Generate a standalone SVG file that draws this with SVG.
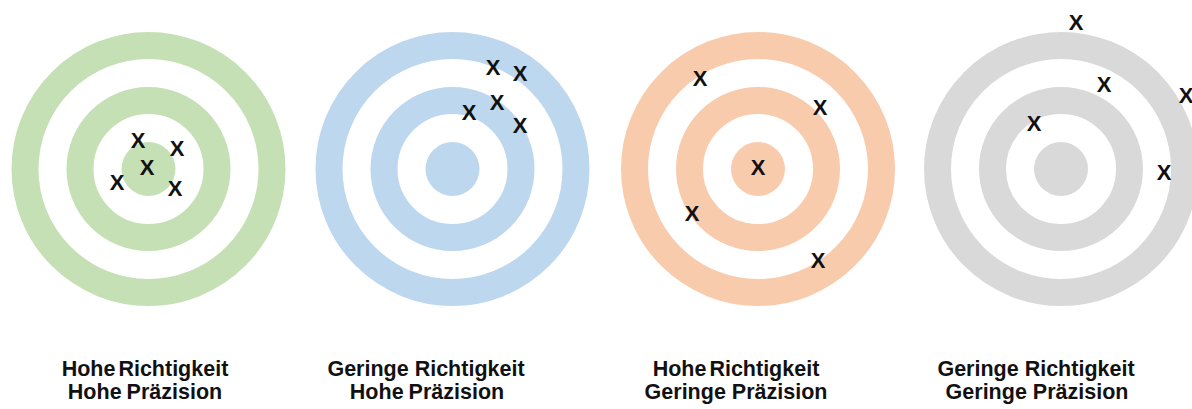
<svg xmlns="http://www.w3.org/2000/svg" width="1192" height="409" viewBox="0 0 1192 409">
<style>
.ring{fill:none;stroke-width:27}
.x{font-family:"Liberation Sans",Arial,sans-serif;font-weight:bold;font-size:22px;fill:#111;text-anchor:middle}
.lbl{font-family:"Liberation Sans",Arial,sans-serif;font-weight:bold;font-size:21.5px;fill:#111;text-anchor:middle}
.g{stroke:#c5e0b4}.gf{fill:#c5e0b4}
.b{stroke:#bdd7ee}.bf{fill:#bdd7ee}
.o{stroke:#f8cbad}.of{fill:#f8cbad}
.k{stroke:#d9d9d9}.kf{fill:#d9d9d9}
</style>
<rect width="1192" height="409" fill="#fff"/>
<g id="target-green">
<circle class="ring g" cx="148.5" cy="169" r="123.5"/>
<circle class="ring g" cx="148.5" cy="169" r="68.5"/>
<circle class="gf" cx="148.5" cy="169" r="27"/>
<text class="x" x="138" y="148">X</text>
<text class="x" x="177" y="156">X</text>
<text class="x" x="147" y="175">X</text>
<text class="x" x="117" y="190">X</text>
<text class="x" x="175" y="196">X</text>
<text class="lbl" x="145" y="376" word-spacing="-3">Hohe Richtigkeit</text>
<text class="lbl" x="145" y="399" word-spacing="-1">Hohe Präzision</text>
</g>
<g id="target-blue">
<circle class="ring b" cx="452.5" cy="169" r="123.5"/>
<circle class="ring b" cx="452.5" cy="169" r="68.5"/>
<circle class="bf" cx="452.5" cy="169" r="27"/>
<text class="x" x="493" y="75">X</text>
<text class="x" x="520" y="81">X</text>
<text class="x" x="497" y="110">X</text>
<text class="x" x="469" y="120">X</text>
<text class="x" x="520" y="133">X</text>
<text class="lbl" x="426" y="376">Geringe Richtigkeit</text>
<text class="lbl" x="427" y="399" word-spacing="-1">Hohe Präzision</text>
</g>
<g id="target-orange">
<circle class="ring o" cx="758" cy="169" r="123.5"/>
<circle class="ring o" cx="758" cy="169" r="68.5"/>
<circle class="of" cx="758" cy="169" r="27"/>
<text class="x" x="700" y="86">X</text>
<text class="x" x="820" y="115">X</text>
<text class="x" x="758" y="175">X</text>
<text class="x" x="692" y="221">X</text>
<text class="x" x="818" y="268">X</text>
<text class="lbl" x="736" y="376" word-spacing="-3">Hohe Richtigkeit</text>
<text class="lbl" x="736" y="399">Geringe Präzision</text>
</g>
<g id="target-gray">
<circle class="ring k" cx="1061" cy="169" r="123.5"/>
<circle class="ring k" cx="1061" cy="169" r="68.5"/>
<circle class="kf" cx="1061" cy="169" r="27"/>
<text class="x" x="1076" y="30">X</text>
<text class="x" x="1104" y="92">X</text>
<text class="x" x="1186" y="103">X</text>
<text class="x" x="1034" y="131">X</text>
<text class="x" x="1164" y="180">X</text>
<text class="lbl" x="1036" y="376">Geringe Richtigkeit</text>
<text class="lbl" x="1037" y="399">Geringe Präzision</text>
</g>
<g id="connectors"></g>
</svg>
